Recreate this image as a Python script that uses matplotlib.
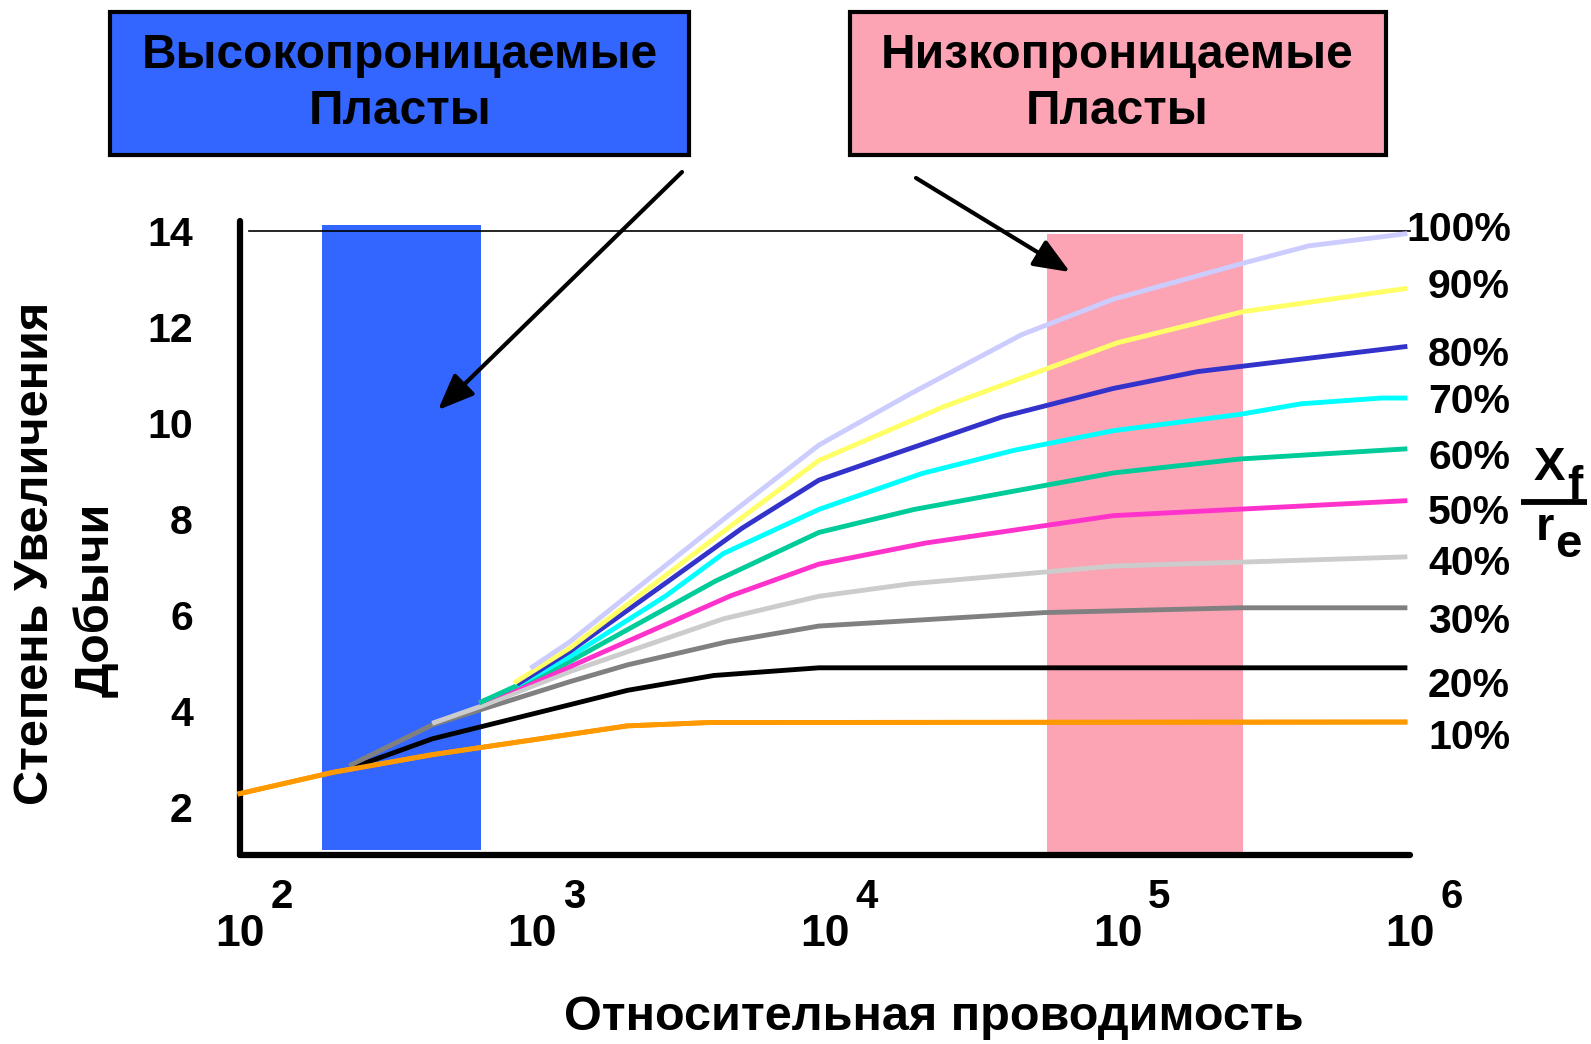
import matplotlib
matplotlib.use('Agg')
import matplotlib.pyplot as plt
from matplotlib.patches import Rectangle, FancyArrowPatch

plt.rcParams['font.family'] = ['Liberation Sans', 'DejaVu Sans']
plt.rcParams['font.weight'] = 'bold'

# ---- data (relative conductivity vs. production increase factor) ----
pct_labels = ['10%', '20%', '30%', '40%', '50%', '60%', '70%', '80%', '90%', '100%']
line_colors = ['#FF9900', '#000000', '#808080', '#CCCCCC', '#FF33CC',
               '#00CC99', '#00FFFF', '#3333CC', '#FFFF66', '#CCCCFF']

cond_10 = [100, 207, 454, 2110, 4040, 961000]
gain_10 = [2.28, 2.72, 3.09, 3.69, 3.76, 3.77]

cond_20 = [250, 454, 1340, 2110, 4170, 9530, 961000]
gain_20 = [2.85, 3.42, 4.13, 4.43, 4.74, 4.90, 4.90]

cond_30 = [240, 454, 1340, 2110, 4620, 9530, 56200, 262000, 961000]
gain_30 = [2.88, 3.71, 4.61, 4.96, 5.44, 5.77, 6.05, 6.15, 6.15]

cond_40 = [462, 668, 1340, 4490, 9530, 19600, 96800, 262000, 961000]
gain_40 = [3.76, 4.10, 4.82, 5.92, 6.39, 6.65, 7.02, 7.10, 7.21]

cond_50 = [668, 1340, 4760, 9530, 22100, 96800, 961000]
gain_50 = [4.19, 4.92, 6.40, 7.06, 7.50, 8.07, 8.38]

cond_60 = [668, 1340, 4230, 9530, 20200, 96800, 262000, 961000]
gain_60 = [4.19, 5.03, 6.71, 7.72, 8.20, 8.96, 9.25, 9.46]

cond_70 = [900, 1340, 2860, 4490, 9530, 21500, 44200, 96800, 262000, 424000, 798000, 961000]
gain_70 = [4.56, 5.13, 6.40, 7.28, 8.20, 8.95, 9.43, 9.84, 10.18, 10.40, 10.52, 10.52]

cond_80 = [900, 1340, 2860, 5210, 9530, 17900, 40400, 96800, 187500, 961000]
gain_80 = [4.58, 5.24, 6.67, 7.81, 8.81, 9.39, 10.13, 10.72, 11.07, 11.59]

cond_90 = [879, 1340, 5550, 9530, 25700, 99800, 269000, 961000]
gain_90 = [4.61, 5.31, 8.16, 9.22, 10.35, 11.67, 12.32, 12.80]

cond_100 = [1000, 1340, 4620, 9530, 19600, 47000, 96800, 269000, 450000, 961000]
gain_100 = [4.92, 5.44, 8.05, 9.54, 10.61, 11.84, 12.58, 13.33, 13.69, 13.94]

all_cond = [cond_10, cond_20, cond_30, cond_40, cond_50,
            cond_60, cond_70, cond_80, cond_90, cond_100]
all_gain = [gain_10, gain_20, gain_30, gain_40, gain_50,
            gain_60, gain_70, gain_80, gain_90, gain_100]

# highlighted reservoir ranges (conductivity, gain)
high_perm_cond = [190, 665]
high_perm_gain = [1.1, 14.12]
low_perm_cond = [57500, 268000]
low_perm_gain = [1.07, 13.94]

decades = [2, 3, 4, 5, 6]
yticks = [2, 4, 6, 8, 10, 12, 14]

W, H = 1591, 1044
fig = plt.figure(figsize=(W / 100, H / 100), dpi=100)
ax = fig.add_axes([240 / W, 1 - 855 / H, 1170 / W, (855 - 221.4) / H])
ax.set_xscale('log')
ax.set_xlim(1e2, 1e6)
ax.set_ylim(1, 14.2)

for s in ['top', 'right']:
    ax.spines[s].set_visible(False)
for s in ['left', 'bottom']:
    ax.spines[s].set_linewidth(4.5)
    ax.spines[s].set_capstyle('round')

ax.xaxis.set_major_locator(matplotlib.ticker.NullLocator())
ax.xaxis.set_minor_locator(matplotlib.ticker.NullLocator())
ax.set_yticks(yticks)
ax.set_yticklabels([str(t) for t in yticks])
ax.tick_params(axis='y', length=0, pad=34, labelsize=29.5)

# shaded ranges
ax.fill_between(high_perm_cond, high_perm_gain[0], high_perm_gain[1],
                color='#3366FF', lw=0, zorder=1)
ax.fill_between(low_perm_cond, low_perm_gain[0], low_perm_gain[1],
                color='#FCA4B4', lw=0, zorder=1)

# reference line at 14
ax.plot([107, 1e6], [14, 14], color='black', lw=1.2, zorder=2, clip_on=False)

for c, g, col in zip(all_cond, all_gain, line_colors):
    ax.plot(c, g, color=col, lw=3.5, zorder=3, clip_on=False)
# orange on top, as in the original
ax.plot(cond_10, gain_10, color=line_colors[0], lw=3.5, zorder=4, clip_on=False)

# x tick labels 10^n
for d in decades:
    ax.annotate('10', xy=(10 ** d, 0), xycoords=('data', 'axes fraction'),
                xytext=(0, -57), textcoords='offset points',
                ha='center', va='center', fontsize=32)
    ax.annotate(str(d), xy=(10 ** d, 0), xycoords=('data', 'axes fraction'),
                xytext=(22, -30), textcoords='offset points',
                ha='left', va='center', fontsize=29)

# overlay in pixel coordinates for annotations
ov = fig.add_axes([0, 0, 1, 1])
ov.set_xlim(0, W)
ov.set_ylim(H, 0)
ov.axis('off')
ov.patch.set_visible(False)

label_x = [1428] * 9 + [1406]
label_y = [738, 686, 622, 564, 513, 458, 402, 355, 287, 230]
for lab, lx, ly in zip(pct_labels, label_x, label_y):
    ov.text(lx, ly, lab, ha='left', va='center', fontsize=29.5)

# X_f / r_e
ov.text(1549, 480, 'X', ha='center', va='baseline', fontsize=34)
ov.text(1575, 499, 'f', ha='center', va='baseline', fontsize=33)
ov.plot([1521, 1587], [502, 502], color='black', lw=4.2, solid_capstyle='butt')
ov.text(1545, 540, 'r', ha='center', va='baseline', fontsize=34)
ov.text(1568, 557, 'e', ha='center', va='baseline', fontsize=34)

# axis titles
ov.text(934, 1017, 'Относительная проводимость', ha='center', va='center', fontsize=35)
ov.text(36, 553, 'Степень Увеличения', ha='center', va='center',
        rotation=90, fontsize=35)
ov.text(96, 600, 'Добычи', ha='center', va='center', rotation=90, fontsize=35)

# boxes
ov.add_patch(Rectangle((110, 12), 579, 143, facecolor='#3366FF',
                       edgecolor='black', lw=3))
ov.text(400, 56, 'Высокопроницаемые', ha='center', va='center', fontsize=34.5)
ov.text(400, 112, 'Пласты', ha='center', va='center', fontsize=34.5)
ov.add_patch(Rectangle((850, 12), 536, 143, facecolor='#FCA4B4',
                       edgecolor='black', lw=3))
ov.text(1117, 56, 'Низкопроницаемые', ha='center', va='center', fontsize=34.5)
ov.text(1117, 112, 'Пласты', ha='center', va='center', fontsize=34.5)

# arrows
for start, end in [((682, 172), (438, 410)), ((916, 178), (1070, 272))]:
    ov.add_patch(FancyArrowPatch(start, end,
                                 arrowstyle='-|>,head_length=1.1,head_width=0.45',
                                 mutation_scale=20, lw=3, color='black',
                                 shrinkA=0, shrinkB=0))

fig.savefig('out.png', dpi=100)
